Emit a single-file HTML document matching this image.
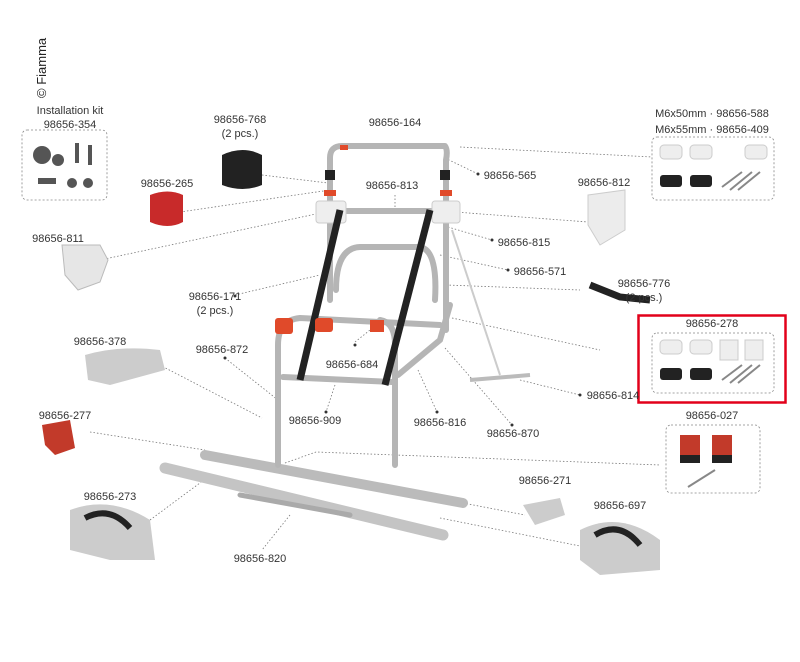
<!DOCTYPE html>
<html><head><meta charset="utf-8"><style>
body{margin:0;background:#fff;width:800px;height:657px;overflow:hidden;font-family:"Liberation Sans",sans-serif}
svg text{font-family:"Liberation Sans",sans-serif;font-size:11px;fill:#333}
</style></head><body>
<svg width="800" height="657" viewBox="0 0 800 657">
<g stroke="#777" stroke-width="0.8" stroke-dasharray="1.5,2" fill="none">
<path d="M460 147 L652 157"/><path d="M445 158 L478 174"/><path d="M262 175 L328 183"/>
<path d="M180 212 L330 190"/><path d="M395 195 L395 210"/><path d="M455 212 L588 222"/>
<path d="M100 260 L330 211"/><path d="M448 227 L492 240"/><path d="M440 255 L508 270"/>
<path d="M446 285 L580 290"/><path d="M235 295 L320 275"/><path d="M452 318 L600 350"/>
<path d="M150 360 L262 418"/><path d="M225 358 L278 400"/><path d="M355 342 L370 330"/>
<path d="M335 385 L326 412"/><path d="M418 370 L437 412"/><path d="M445 348 L512 425"/>
<path d="M520 380 L580 395"/><path d="M90 432 L205 450"/><path d="M285 463 L316 452 L660 465"/>
<path d="M463 503 L525 515"/><path d="M440 518 L590 548"/><path d="M150 520 L208 477"/>
<path d="M290 515 L262 550"/>
</g>
<g fill="#333"><circle cx="478" cy="174" r="1.5"/><circle cx="492" cy="240" r="1.5"/><circle cx="508" cy="270" r="1.5"/><circle cx="235" cy="296" r="1.5"/><circle cx="225" cy="358" r="1.5"/><circle cx="355" cy="345" r="1.5"/><circle cx="326" cy="412" r="1.5"/><circle cx="437" cy="412" r="1.5"/><circle cx="512" cy="425" r="1.5"/><circle cx="580" cy="395" r="1.5"/></g>
<!-- rails -->
<g stroke-linecap="round">
<path d="M205 455 L463 503" stroke="#bbb" stroke-width="10"/>
<path d="M165 468 L443 535" stroke="#c4c4c4" stroke-width="11"/>
<path d="M240 495 L350 515" stroke="#aaa" stroke-width="5"/>
</g>
<!-- frame -->
<g fill="none" stroke="#b5b5b5" stroke-width="6" stroke-linecap="round" stroke-linejoin="round">
<path d="M330 300 L330 158 Q330 146 342 146 L445 146 Q448 150 446 160 L446 330"/>
<path d="M330 211 L446 211"/>
<path d="M278 465 L278 345 Q278 320 300 318 L440 325"/>
<path d="M395 465 L395 345 Q395 322 380 320"/>
<path d="M283 377 L392 382"/>
<path d="M336 290 Q336 248 360 247 L420 247 Q438 250 435 300"/>
<path d="M398 375 L440 340 L450 305"/>
</g>
<g fill="#ddd"><rect x="316" y="201" width="30" height="22" rx="3" fill="#eee" stroke="#ccc"/><rect x="432" y="201" width="28" height="22" rx="3" fill="#eee" stroke="#ccc"/></g>
<g stroke="#222" stroke-width="7" fill="none"><path d="M340 210 L300 380"/><path d="M430 210 L385 385"/></g>
<g fill="#e04a2a"><rect x="324" y="190" width="12" height="6"/><rect x="440" y="190" width="12" height="6"/><rect x="340" y="145" width="8" height="5"/><rect x="315" y="318" width="18" height="14" rx="3"/><rect x="370" y="320" width="14" height="12"/><rect x="275" y="318" width="18" height="16" rx="3"/></g>
<rect x="325" y="170" width="10" height="10" fill="#222"/><rect x="440" y="170" width="10" height="10" fill="#222"/>
<!-- parts -->
<path d="M222 155 Q243 145 262 155 L262 185 Q243 193 222 185Z" fill="#222"/>
<path d="M150 195 Q168 188 183 195 L183 222 Q168 230 150 222Z" fill="#c82a2a"/>
<path d="M62 245 L100 245 L108 260 L100 282 L78 290 L65 275Z" fill="#e6e6e6" stroke="#bbb"/>
<path d="M588 195 L625 190 L625 230 L600 245 L588 225Z" fill="#ececec" stroke="#ccc"/>
<path d="M590 285 L620 297 L650 300" stroke="#222" stroke-width="7" fill="none"/>
<path d="M85 355 Q120 345 160 350 L165 370 L110 385 L88 380Z" fill="#ccc"/>
<path d="M42 425 L70 420 L75 448 L55 455 L45 445Z" fill="#c23a2a"/>
<path d="M70 510 Q110 495 150 520 L155 560 L110 560 L70 550Z" fill="#ccc"/>
<path d="M85 518 Q110 505 130 528" stroke="#222" stroke-width="6" fill="none"/>
<path d="M523 505 L560 498 L565 515 L535 525Z" fill="#ccc"/>
<path d="M580 530 Q620 510 660 540 L660 570 L600 575 L580 560Z" fill="#ccc"/>
<path d="M595 535 Q620 520 640 545" stroke="#222" stroke-width="6" fill="none"/>
<path d="M470 380 L530 375" stroke="#bbb" stroke-width="4"/>
<path d="M452 230 L500 375" stroke="#ccc" stroke-width="2"/>
<!-- boxes -->
<g fill="none" stroke="#888" stroke-width="0.8" stroke-dasharray="2,2">
<rect x="22" y="130" width="85" height="70" rx="5"/>
<rect x="652" y="137" width="122" height="63" rx="5"/>
<rect x="652" y="333" width="122" height="60" rx="5"/>
<rect x="666" y="425" width="94" height="68" rx="5"/>
</g>
<rect x="638.5" y="315.5" width="147" height="87" fill="none" stroke="#e2001a" stroke-width="2.5"/>
<g fill="#555"><circle cx="42" cy="155" r="9"/><circle cx="58" cy="160" r="6"/><rect x="75" y="143" width="4" height="20"/><rect x="88" y="145" width="4" height="20"/><rect x="38" y="178" width="18" height="6"/><circle cx="72" cy="183" r="5"/><circle cx="88" cy="183" r="5"/></g>
<g fill="#eee" stroke="#ccc"><rect x="660" y="145" width="22" height="14" rx="4"/><rect x="690" y="145" width="22" height="14" rx="4"/><rect x="745" y="145" width="22" height="14" rx="4"/><rect x="660" y="340" width="22" height="14" rx="4"/><rect x="690" y="340" width="22" height="14" rx="4"/><rect x="720" y="340" width="18" height="20"/><rect x="745" y="340" width="18" height="20"/></g>
<g fill="#222"><rect x="660" y="175" width="22" height="12" rx="3"/><rect x="690" y="175" width="22" height="12" rx="3"/><rect x="660" y="368" width="22" height="12" rx="3"/><rect x="690" y="368" width="22" height="12" rx="3"/></g>
<g stroke="#888" stroke-width="2"><path d="M722 187 L742 172 M730 190 L752 172 M738 190 L760 172"/><path d="M722 380 L742 365 M730 383 L752 365 M738 383 L760 365"/></g>
<rect x="680" y="435" width="20" height="20" fill="#c23a2a"/><rect x="712" y="435" width="20" height="20" fill="#c23a2a"/><rect x="680" y="455" width="20" height="8" fill="#222"/><rect x="712" y="455" width="20" height="8" fill="#222"/>
<path d="M688 487 L715 470" stroke="#888" stroke-width="2"/>
<!-- labels -->
<g text-anchor="middle">
<text x="70" y="114">Installation kit</text><text x="70" y="128">98656-354</text>
<text x="240" y="123">98656-768</text><text x="240" y="137">(2 pcs.)</text>
<text x="395" y="126">98656-164</text>
<text x="510" y="179">98656-565</text>
<text x="167" y="187">98656-265</text>
<text x="392" y="189">98656-813</text>
<text x="604" y="186">98656-812</text>
<text x="712" y="117">M6x50mm · 98656-588</text><text x="712" y="133">M6x55mm · 98656-409</text>
<text x="58" y="242">98656-811</text>
<text x="524" y="246">98656-815</text>
<text x="540" y="275">98656-571</text>
<text x="215" y="300">98656-171</text><text x="215" y="314">(2 pcs.)</text>
<text x="644" y="287">98656-776</text><text x="644" y="301">(2 pcs.)</text>
<text x="712" y="327">98656-278</text>
<text x="100" y="345">98656-378</text>
<text x="222" y="353">98656-872</text>
<text x="352" y="368">98656-684</text>
<text x="315" y="424">98656-909</text>
<text x="440" y="426">98656-816</text>
<text x="513" y="437">98656-870</text>
<text x="613" y="399">98656-814</text>
<text x="712" y="419">98656-027</text>
<text x="65" y="419">98656-277</text>
<text x="545" y="484">98656-271</text>
<text x="110" y="500">98656-273</text>
<text x="620" y="509">98656-697</text>
<text x="260" y="562">98656-820</text>
</g>
<text x="0" y="0" transform="translate(46,98) rotate(-90)" style="font-size:13px;fill:#222">© Fiamma</text>
</svg>
</body></html>
